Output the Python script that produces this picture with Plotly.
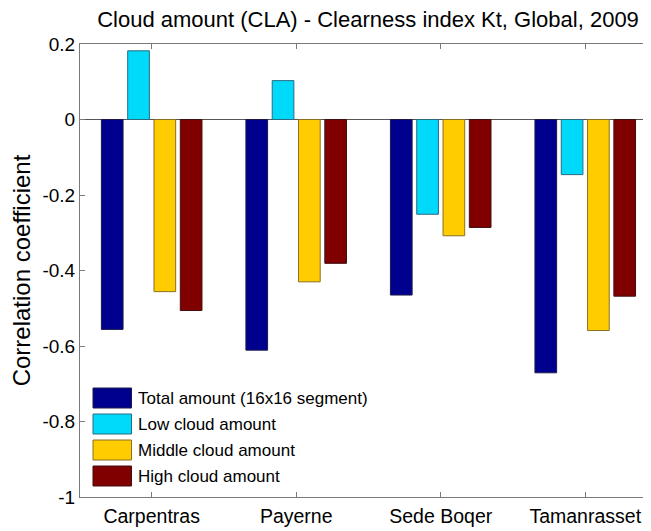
import plotly.graph_objects as go

stations = ["Carpentras", "Payerne", "Sede Boqer", "Tamanrasset"]
series_names = ["Total amount (16x16 segment)", "Low cloud amount",
                "Middle cloud amount", "High cloud amount"]
total_amount = [-0.556, -0.611, -0.465, -0.671]
low_cloud = [0.182, 0.103, -0.251, -0.146]
middle_cloud = [-0.456, -0.430, -0.308, -0.559]
high_cloud = [-0.506, -0.381, -0.286, -0.468]
y_ticks = [-1, -0.8, -0.6, -0.4, -0.2, 0, 0.2]
y_tick_labels = ["-1", "-0.8", "-0.6", "-0.4", "-0.2", "0", "0.2"]

colors = ["#00008F", "#00DAFA", "#FFCC00", "#800000"]
edge = ["#1a1a4a", "#2a6a80", "#8a7020", "#401010"]
values = [total_amount, low_cloud, middle_cloud, high_cloud]

FONT = "Liberation Sans, Arial, sans-serif"

# page has an 8px body margin; figure is sized/offset to compensate
W, H = 643, 523
ML, MT, MB = 72, 36, 34
PW, PH = W - ML, H - MT - MB

fig = go.Figure()
for name, vals, c, e in zip(series_names, values, colors, edge):
    fig.add_trace(go.Bar(x=stations, y=vals, name=name, showlegend=False,
                         marker=dict(color=c, line=dict(color=e, width=1))))

# MATLAB-style legend (large swatches) built from the series names/colours
def px_to_paper_x(px):
    return (px - ML) / PW

def px_to_paper_y(py):
    return (H - MB - py) / PH

shapes, annotations = [], []
box_l, box_r, row0, step, bh = 85, 123.5, 390, 26, 20
for i, (name, c, e) in enumerate(zip(series_names, colors, edge)):
    cy = row0 + i * step
    shapes.append(dict(type="rect", xref="paper", yref="paper",
                       x0=px_to_paper_x(box_l), x1=px_to_paper_x(box_r),
                       y0=px_to_paper_y(cy + bh / 2), y1=px_to_paper_y(cy - bh / 2),
                       fillcolor=c, line=dict(color=e, width=1), layer="above"))
    annotations.append(dict(text=name, xref="paper", yref="paper",
                            x=px_to_paper_x(128), y=px_to_paper_y(cy),
                            xanchor="left", yanchor="middle", showarrow=False,
                            font=dict(size=17, family=FONT, color="black")))

fig.update_layout(
    width=W, height=H,
    margin=dict(l=ML, r=0, t=MT, b=MB),
    paper_bgcolor="white", plot_bgcolor="white",
    barmode="group", bargap=0.272, bargroupgap=0.176,
    font=dict(family=FONT, size=19, color="black"),
    title=dict(text="Cloud amount (CLA) - Clearness index Kt, Global, 2009",
               x=(368 - 8) / W, xanchor="center", y=1 - 11 / H, yanchor="middle",
               yref="container", font=dict(size=22, family=FONT)),
    showlegend=False,
    shapes=shapes, annotations=annotations,
)
fig.update_xaxes(
    range=[-0.496, 3.455], showline=True, linecolor="#7a7a7a", linewidth=1,
    mirror="ticks", ticks="inside", ticklen=5, tickcolor="#7a7a7a",
    showgrid=False, zeroline=False, tickfont=dict(size=19.5, family=FONT),
    ticklabelstandoff=2,
)
fig.update_yaxes(
    range=[-1, 0.2], tickvals=y_ticks, ticktext=y_tick_labels,
    showline=True, linecolor="#7a7a7a", linewidth=1, mirror=False,
    ticks="inside", ticklen=5, tickcolor="#7a7a7a", showgrid=False,
    zeroline=True, zerolinecolor="#555555", zerolinewidth=1,
    tickfont=dict(size=19, family=FONT),
    title=dict(text="Correlation coefficient", font=dict(size=24, family=FONT), standoff=6),
)

fig.write_html("out.html")
